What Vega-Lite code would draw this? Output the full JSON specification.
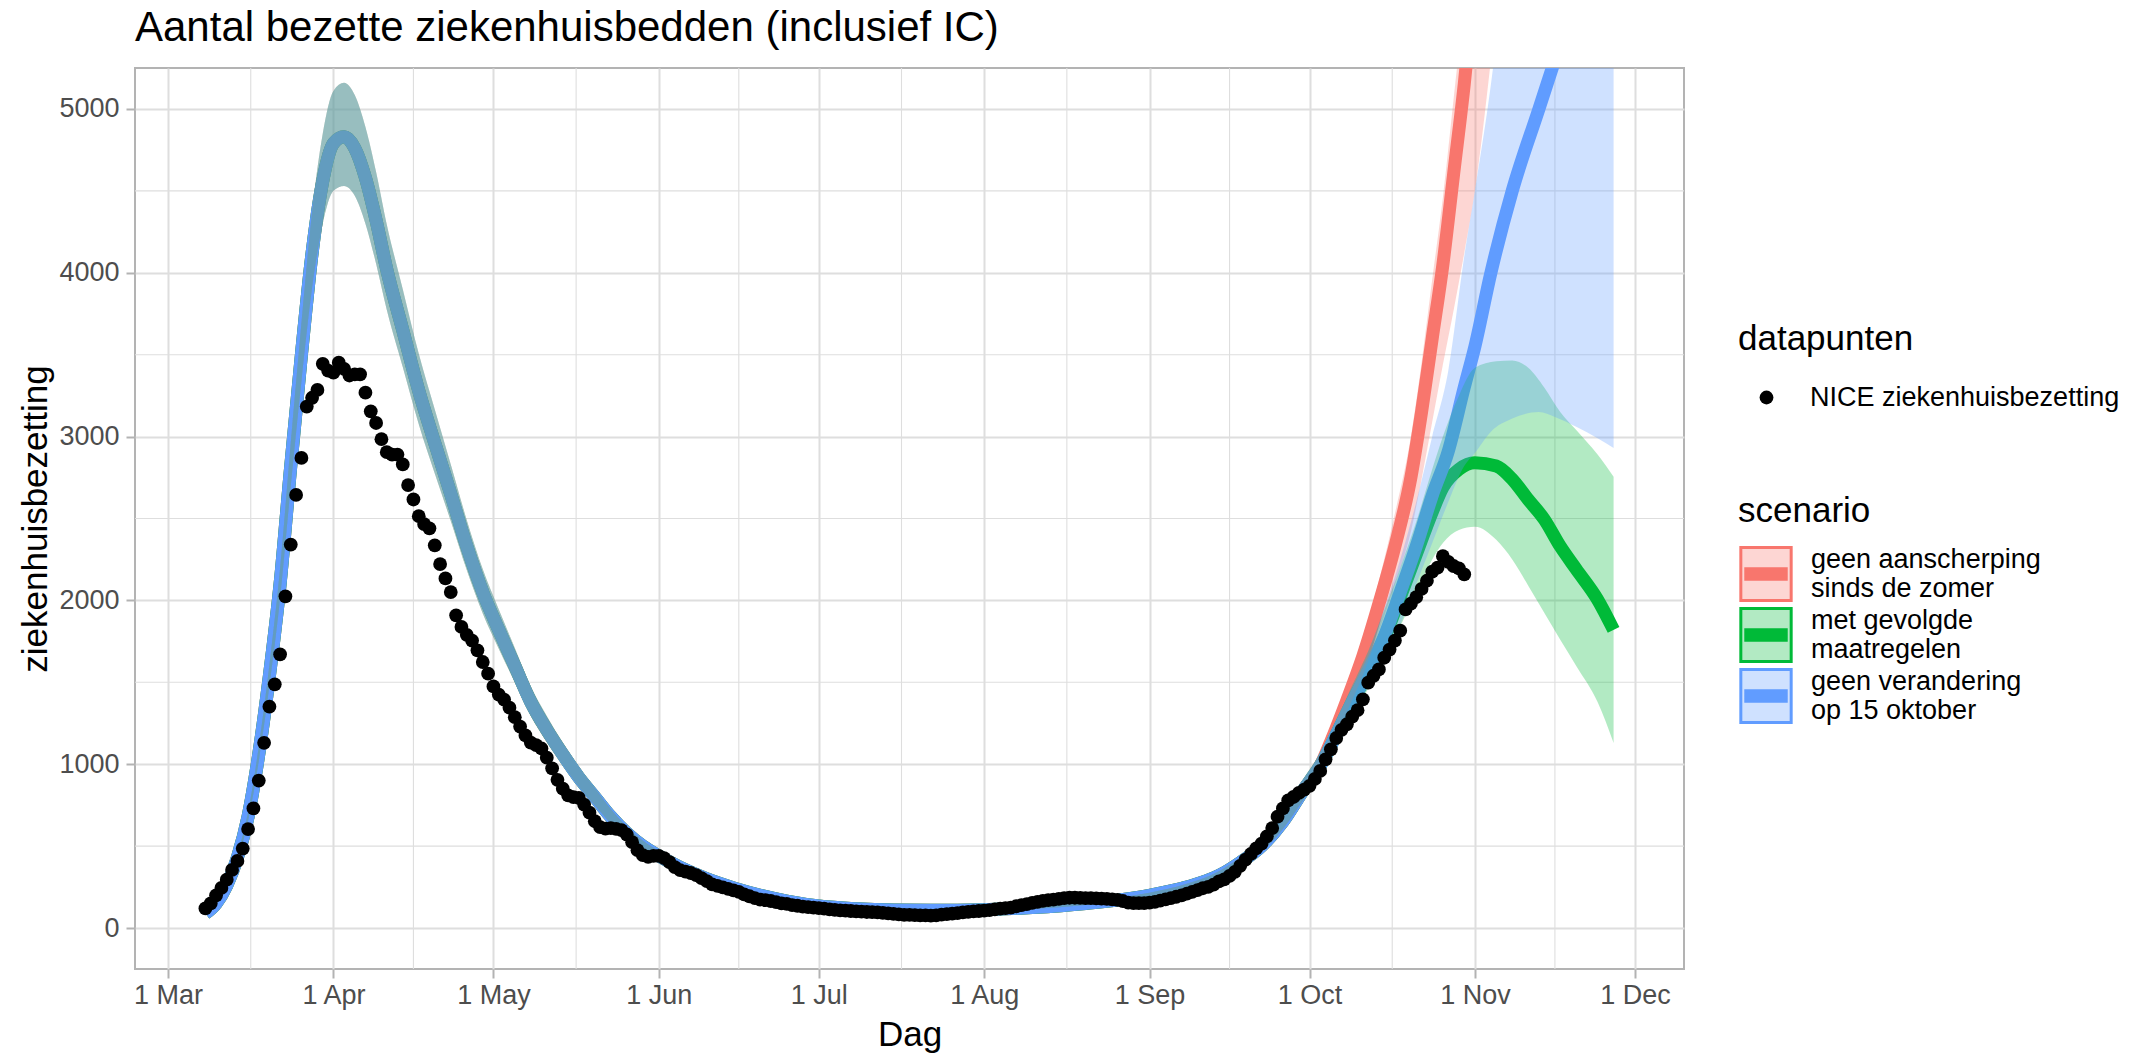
{
  "$schema": "https://vega.github.io/schema/vega-lite/v6.json",
  "width": 1549,
  "height": 901,
  "autosize": {"type": "none"},
  "padding": {"left": 135, "top": 68, "right": 452, "bottom": 84},
  "background": "white",
  "title": {"text": "Aantal bezette ziekenhuisbedden (inclusief IC)", "anchor": "start", "frame": "group", "fontSize": 42, "fontWeight": "normal", "color": "black", "baseline": "alphabetic", "offset": -16},
  "config": {
    "font": "Liberation Sans",
    "view": {"stroke": "#B3B3B3", "strokeWidth": 2},
    "axis": {"labelFontSize": 27, "labelColor": "#4D4D4D", "tickColor": "#B3B3B3", "tickWidth": 2, "tickSize": 9, "domain": false, "gridColor": "#DEDEDE", "gridWidth": 2, "titleFontSize": 35, "titleFontWeight": "normal", "titleColor": "black"},
    "legend": {"titleFontSize": 35, "titleFontWeight": "normal", "titleColor": "black", "labelFontSize": 27, "labelColor": "black", "padding": 0}
  },
  "datasets": {
    "gx": [{"d": "2020-03-16T12:00:00Z"}, {"d": "2020-04-16T00:00:00Z"}, {"d": "2020-05-16T12:00:00Z"}, {"d": "2020-06-16T00:00:00Z"}, {"d": "2020-07-16T12:00:00Z"}, {"d": "2020-08-16T12:00:00Z"}, {"d": "2020-09-16T00:00:00Z"}, {"d": "2020-10-16T12:00:00Z"}, {"d": "2020-11-16T00:00:00Z"}],
    "gy": [{"v": 500}, {"v": 1500}, {"v": 2500}, {"v": 3500}, {"v": 4500}],
    "scen": [
      {"id": "r", "s": "geen aanscherping\n\u00a0sinds de zomer"},
      {"id": "g", "s": "met gevolgde\n\u00a0maatregelen"},
      {"id": "b", "s": "geen verandering\n\u00a0op 15 oktober"}
    ],
    "nice": [
      {"d":"2020-03-08","v":120},{"d":"2020-03-09","v":150},{"d":"2020-03-10","v":200},{"d":"2020-03-11","v":245},{"d":"2020-03-12","v":295},{"d":"2020-03-13","v":355},{"d":"2020-03-14","v":410},{"d":"2020-03-15","v":485},{"d":"2020-03-16","v":604},{"d":"2020-03-17","v":730},{"d":"2020-03-18","v":900},{"d":"2020-03-19","v":1131},{"d":"2020-03-20","v":1351},{"d":"2020-03-21","v":1488},{"d":"2020-03-22","v":1671},{"d":"2020-03-23","v":2025},{"d":"2020-03-24","v":2341},{"d":"2020-03-25","v":2644},{"d":"2020-03-26","v":2870},{"d":"2020-03-27","v":3183},{"d":"2020-03-28","v":3237},{"d":"2020-03-29","v":3285},{"d":"2020-03-30","v":3444},{"d":"2020-03-31","v":3403},
      {"d":"2020-04-01","v":3390},{"d":"2020-04-02","v":3451},{"d":"2020-04-03","v":3414},{"d":"2020-04-04","v":3373},{"d":"2020-04-05","v":3380},{"d":"2020-04-06","v":3380},{"d":"2020-04-07","v":3268},{"d":"2020-04-08","v":3154},{"d":"2020-04-09","v":3083},{"d":"2020-04-10","v":2984},{"d":"2020-04-11","v":2905},{"d":"2020-04-12","v":2890},{"d":"2020-04-13","v":2890},{"d":"2020-04-14","v":2830},{"d":"2020-04-15","v":2704},{"d":"2020-04-16","v":2616},{"d":"2020-04-17","v":2514},{"d":"2020-04-18","v":2466},{"d":"2020-04-19","v":2440},{"d":"2020-04-20","v":2336},{"d":"2020-04-21","v":2222},{"d":"2020-04-22","v":2134},{"d":"2020-04-23","v":2051},{"d":"2020-04-24","v":1909},{"d":"2020-04-25","v":1838},{"d":"2020-04-26","v":1790},{"d":"2020-04-27","v":1755},{"d":"2020-04-28","v":1695},{"d":"2020-04-29","v":1624},{"d":"2020-04-30","v":1553},
      {"d":"2020-05-01","v":1475},{"d":"2020-05-02","v":1425},{"d":"2020-05-03","v":1395},{"d":"2020-05-04","v":1345},{"d":"2020-05-05","v":1287},{"d":"2020-05-06","v":1230},{"d":"2020-05-07","v":1176},{"d":"2020-05-08","v":1132},{"d":"2020-05-09","v":1117},{"d":"2020-05-10","v":1096},{"d":"2020-05-11","v":1040},{"d":"2020-05-12","v":975},{"d":"2020-05-13","v":905},{"d":"2020-05-14","v":851},{"d":"2020-05-15","v":810},{"d":"2020-05-16","v":799},{"d":"2020-05-17","v":795},{"d":"2020-05-18","v":754},{"d":"2020-05-19","v":704},{"d":"2020-05-20","v":652},{"d":"2020-05-21","v":616},{"d":"2020-05-22","v":607},{"d":"2020-05-23","v":610},{"d":"2020-05-24","v":605},{"d":"2020-05-25","v":598},{"d":"2020-05-26","v":571},{"d":"2020-05-27","v":524},{"d":"2020-05-28","v":475},{"d":"2020-05-29","v":445},{"d":"2020-05-30","v":435},{"d":"2020-05-31","v":440},
      {"d":"2020-06-01","v":440},{"d":"2020-06-02","v":427},{"d":"2020-06-03","v":402},{"d":"2020-06-04","v":372},{"d":"2020-06-05","v":354},{"d":"2020-06-06","v":345},{"d":"2020-06-07","v":336},{"d":"2020-06-08","v":323},{"d":"2020-06-09","v":305},{"d":"2020-06-10","v":287},{"d":"2020-06-11","v":266},{"d":"2020-06-12","v":257},{"d":"2020-06-13","v":248},{"d":"2020-06-14","v":239},{"d":"2020-06-15","v":230},{"d":"2020-06-16","v":221},{"d":"2020-06-17","v":205},{"d":"2020-06-18","v":194},{"d":"2020-06-19","v":183},{"d":"2020-06-20","v":174},{"d":"2020-06-21","v":170},{"d":"2020-06-22","v":165},{"d":"2020-06-23","v":158},{"d":"2020-06-24","v":151},{"d":"2020-06-25","v":147},{"d":"2020-06-26","v":140},{"d":"2020-06-27","v":136},{"d":"2020-06-28","v":131},{"d":"2020-06-29","v":128},{"d":"2020-06-30","v":124},
      {"d":"2020-07-01","v":122},{"d":"2020-07-02","v":118},{"d":"2020-07-03","v":114},{"d":"2020-07-04","v":111},{"d":"2020-07-05","v":108},{"d":"2020-07-06","v":106},{"d":"2020-07-07","v":104},{"d":"2020-07-08","v":102},{"d":"2020-07-09","v":100},{"d":"2020-07-10","v":98},{"d":"2020-07-11","v":97},{"d":"2020-07-12","v":96},{"d":"2020-07-13","v":93},{"d":"2020-07-14","v":90},{"d":"2020-07-15","v":87},{"d":"2020-07-16","v":83},{"d":"2020-07-17","v":81},{"d":"2020-07-18","v":80},{"d":"2020-07-19","v":79},{"d":"2020-07-20","v":78},{"d":"2020-07-21","v":77},{"d":"2020-07-22","v":76},{"d":"2020-07-23","v":78},{"d":"2020-07-24","v":82},{"d":"2020-07-25","v":85},{"d":"2020-07-26","v":88},{"d":"2020-07-27","v":91},{"d":"2020-07-28","v":95},{"d":"2020-07-29","v":99},{"d":"2020-07-30","v":102},{"d":"2020-07-31","v":104},
      {"d":"2020-08-01","v":106},{"d":"2020-08-02","v":110},{"d":"2020-08-03","v":114},{"d":"2020-08-04","v":118},{"d":"2020-08-05","v":122},{"d":"2020-08-06","v":125},{"d":"2020-08-07","v":133},{"d":"2020-08-08","v":140},{"d":"2020-08-09","v":146},{"d":"2020-08-10","v":153},{"d":"2020-08-11","v":160},{"d":"2020-08-12","v":166},{"d":"2020-08-13","v":170},{"d":"2020-08-14","v":174},{"d":"2020-08-15","v":178},{"d":"2020-08-16","v":182},{"d":"2020-08-17","v":185},{"d":"2020-08-18","v":185},{"d":"2020-08-19","v":184},{"d":"2020-08-20","v":183},{"d":"2020-08-21","v":182},{"d":"2020-08-22","v":181},{"d":"2020-08-23","v":180},{"d":"2020-08-24","v":178},{"d":"2020-08-25","v":175},{"d":"2020-08-26","v":172},{"d":"2020-08-27","v":165},{"d":"2020-08-28","v":155},{"d":"2020-08-29","v":152},{"d":"2020-08-30","v":152},{"d":"2020-08-31","v":152},
      {"d":"2020-09-01","v":155},{"d":"2020-09-02","v":160},{"d":"2020-09-03","v":167},{"d":"2020-09-04","v":175},{"d":"2020-09-05","v":183},{"d":"2020-09-06","v":191},{"d":"2020-09-07","v":200},{"d":"2020-09-08","v":210},{"d":"2020-09-09","v":221},{"d":"2020-09-10","v":232},{"d":"2020-09-11","v":243},{"d":"2020-09-12","v":251},{"d":"2020-09-13","v":265},{"d":"2020-09-14","v":285},{"d":"2020-09-15","v":297},{"d":"2020-09-16","v":318},{"d":"2020-09-17","v":343},{"d":"2020-09-18","v":380},{"d":"2020-09-19","v":417},{"d":"2020-09-20","v":452},{"d":"2020-09-21","v":486},{"d":"2020-09-22","v":515},{"d":"2020-09-23","v":560},{"d":"2020-09-24","v":610},{"d":"2020-09-25","v":680},{"d":"2020-09-26","v":730},{"d":"2020-09-27","v":780},{"d":"2020-09-28","v":800},{"d":"2020-09-29","v":825},{"d":"2020-09-30","v":845},
      {"d":"2020-10-01","v":868},{"d":"2020-10-02","v":910},{"d":"2020-10-03","v":959},{"d":"2020-10-04","v":1030},{"d":"2020-10-05","v":1091},{"d":"2020-10-06","v":1160},{"d":"2020-10-07","v":1210},{"d":"2020-10-08","v":1244},{"d":"2020-10-09","v":1290},{"d":"2020-10-10","v":1330},{"d":"2020-10-11","v":1396},{"d":"2020-10-12","v":1498},{"d":"2020-10-13","v":1540},{"d":"2020-10-14","v":1579},{"d":"2020-10-15","v":1650},{"d":"2020-10-16","v":1700},{"d":"2020-10-17","v":1755},{"d":"2020-10-18","v":1815},{"d":"2020-10-19","v":1945},{"d":"2020-10-20","v":1980},{"d":"2020-10-21","v":2020},{"d":"2020-10-22","v":2070},{"d":"2020-10-23","v":2120},{"d":"2020-10-24","v":2175},{"d":"2020-10-25","v":2200},{"d":"2020-10-26","v":2270},{"d":"2020-10-27","v":2235},{"d":"2020-10-28","v":2210},{"d":"2020-10-29","v":2195},{"d":"2020-10-30","v":2159}
    ],
    "model": [
      {"d":"2020-03-08","id":"r","m":90,"lo":87,"hi":93},{"d":"2020-03-10","id":"r","m":150,"lo":145,"hi":156},{"d":"2020-03-12","id":"r","m":260,"lo":250,"hi":271},{"d":"2020-03-14","id":"r","m":430,"lo":414,"hi":448},{"d":"2020-03-16","id":"r","m":680,"lo":655,"hi":708},{"d":"2020-03-18","id":"r","m":1060,"lo":1020,"hi":1105},{"d":"2020-03-20","id":"r","m":1540,"lo":1480,"hi":1605},{"d":"2020-03-22","id":"r","m":2100,"lo":2015,"hi":2195},{"d":"2020-03-24","id":"r","m":2820,"lo":2700,"hi":2960},{"d":"2020-03-26","id":"r","m":3500,"lo":3340,"hi":3690},{"d":"2020-03-28","id":"r","m":4120,"lo":3910,"hi":4370},{"d":"2020-03-30","id":"r","m":4560,"lo":4300,"hi":4850},{"d":"2020-04-01","id":"r","m":4790,"lo":4500,"hi":5110},{"d":"2020-04-03","id":"r","m":4830,"lo":4530,"hi":5160},{"d":"2020-04-05","id":"r","m":4760,"lo":4470,"hi":5085},{"d":"2020-04-07","id":"r","m":4580,"lo":4300,"hi":4890},{"d":"2020-04-09","id":"r","m":4320,"lo":4055,"hi":4615},{"d":"2020-04-11","id":"r","m":4020,"lo":3775,"hi":4295},{"d":"2020-04-14","id":"r","m":3650,"lo":3425,"hi":3900},{"d":"2020-04-17","id":"r","m":3280,"lo":3075,"hi":3505},{"d":"2020-04-20","id":"r","m":2960,"lo":2775,"hi":3165},{"d":"2020-04-23","id":"r","m":2650,"lo":2485,"hi":2830},{"d":"2020-04-26","id":"r","m":2330,"lo":2185,"hi":2490},{"d":"2020-04-29","id":"r","m":2050,"lo":1920,"hi":2190},{"d":"2020-05-02","id":"r","m":1820,"lo":1705,"hi":1945},{"d":"2020-05-05","id":"r","m":1600,"lo":1500,"hi":1710},{"d":"2020-05-08","id":"r","m":1380,"lo":1295,"hi":1475},{"d":"2020-05-11","id":"r","m":1210,"lo":1135,"hi":1295},{"d":"2020-05-14","id":"r","m":1060,"lo":995,"hi":1132},{"d":"2020-05-17","id":"r","m":920,"lo":863,"hi":983},{"d":"2020-05-20","id":"r","m":800,"lo":750,"hi":855},{"d":"2020-05-23","id":"r","m":680,"lo":638,"hi":727},{"d":"2020-05-26","id":"r","m":580,"lo":544,"hi":620},{"d":"2020-05-29","id":"r","m":500,"lo":470,"hi":534},{"d":"2020-06-01","id":"r","m":440,"lo":414,"hi":470},{"d":"2020-06-05","id":"r","m":370,"lo":348,"hi":395},{"d":"2020-06-10","id":"r","m":300,"lo":282,"hi":320},{"d":"2020-06-15","id":"r","m":245,"lo":230,"hi":262},{"d":"2020-06-20","id":"r","m":200,"lo":188,"hi":214},{"d":"2020-06-25","id":"r","m":165,"lo":155,"hi":177},{"d":"2020-07-01","id":"r","m":135,"lo":127,"hi":145},{"d":"2020-07-08","id":"r","m":118,"lo":111,"hi":127},{"d":"2020-07-15","id":"r","m":110,"lo":103,"hi":118},{"d":"2020-07-22","id":"r","m":108,"lo":101,"hi":116},{"d":"2020-08-01","id":"r","m":112,"lo":105,"hi":121},{"d":"2020-08-10","id":"r","m":125,"lo":117,"hi":135},{"d":"2020-08-20","id":"r","m":150,"lo":140,"hi":162},{"d":"2020-09-01","id":"r","m":200,"lo":186,"hi":216},{"d":"2020-09-08","id":"r","m":250,"lo":232,"hi":270},{"d":"2020-09-14","id":"r","m":320,"lo":297,"hi":346},{"d":"2020-09-18","id":"r","m":400,"lo":372,"hi":432},{"d":"2020-09-22","id":"r","m":500,"lo":465,"hi":540},{"d":"2020-09-26","id":"r","m":650,"lo":605,"hi":702},{"d":"2020-09-30","id":"r","m":850,"lo":790,"hi":918},{"d":"2020-10-03","id":"r","m":990,"lo":921,"hi":1069},
      {"d":"2020-10-05","id":"r","m":1140,"lo":1100,"hi":1175},{"d":"2020-10-08","id":"r","m":1390,"lo":1320,"hi":1450},{"d":"2020-10-11","id":"r","m":1660,"lo":1545,"hi":1760},{"d":"2020-10-14","id":"r","m":1980,"lo":1810,"hi":2120},{"d":"2020-10-17","id":"r","m":2330,"lo":2100,"hi":2530},{"d":"2020-10-20","id":"r","m":2750,"lo":2420,"hi":3000},{"d":"2020-10-22","id":"r","m":3150,"lo":2740,"hi":3450},{"d":"2020-10-24","id":"r","m":3600,"lo":3090,"hi":3960},{"d":"2020-10-26","id":"r","m":4050,"lo":3440,"hi":4460},{"d":"2020-10-28","id":"r","m":4600,"lo":3770,"hi":5060},{"d":"2020-10-30","id":"r","m":5150,"lo":4120,"hi":5670},{"d":"2020-11-01","id":"r","m":5800,"lo":4500,"hi":6380},{"d":"2020-11-04","id":"r","m":6900,"lo":5300,"hi":7600},
      {"d":"2020-03-08","id":"g","m":90,"lo":87,"hi":93},{"d":"2020-03-10","id":"g","m":150,"lo":145,"hi":156},{"d":"2020-03-12","id":"g","m":260,"lo":250,"hi":271},{"d":"2020-03-14","id":"g","m":430,"lo":414,"hi":448},{"d":"2020-03-16","id":"g","m":680,"lo":655,"hi":708},{"d":"2020-03-18","id":"g","m":1060,"lo":1020,"hi":1105},{"d":"2020-03-20","id":"g","m":1540,"lo":1480,"hi":1605},{"d":"2020-03-22","id":"g","m":2100,"lo":2015,"hi":2195},{"d":"2020-03-24","id":"g","m":2820,"lo":2700,"hi":2960},{"d":"2020-03-26","id":"g","m":3500,"lo":3340,"hi":3690},{"d":"2020-03-28","id":"g","m":4120,"lo":3910,"hi":4370},{"d":"2020-03-30","id":"g","m":4560,"lo":4300,"hi":4850},{"d":"2020-04-01","id":"g","m":4790,"lo":4500,"hi":5110},{"d":"2020-04-03","id":"g","m":4830,"lo":4530,"hi":5160},{"d":"2020-04-05","id":"g","m":4760,"lo":4470,"hi":5085},{"d":"2020-04-07","id":"g","m":4580,"lo":4300,"hi":4890},{"d":"2020-04-09","id":"g","m":4320,"lo":4055,"hi":4615},{"d":"2020-04-11","id":"g","m":4020,"lo":3775,"hi":4295},{"d":"2020-04-14","id":"g","m":3650,"lo":3425,"hi":3900},{"d":"2020-04-17","id":"g","m":3280,"lo":3075,"hi":3505},{"d":"2020-04-20","id":"g","m":2960,"lo":2775,"hi":3165},{"d":"2020-04-23","id":"g","m":2650,"lo":2485,"hi":2830},{"d":"2020-04-26","id":"g","m":2330,"lo":2185,"hi":2490},{"d":"2020-04-29","id":"g","m":2050,"lo":1920,"hi":2190},{"d":"2020-05-02","id":"g","m":1820,"lo":1705,"hi":1945},{"d":"2020-05-05","id":"g","m":1600,"lo":1500,"hi":1710},{"d":"2020-05-08","id":"g","m":1380,"lo":1295,"hi":1475},{"d":"2020-05-11","id":"g","m":1210,"lo":1135,"hi":1295},{"d":"2020-05-14","id":"g","m":1060,"lo":995,"hi":1132},{"d":"2020-05-17","id":"g","m":920,"lo":863,"hi":983},{"d":"2020-05-20","id":"g","m":800,"lo":750,"hi":855},{"d":"2020-05-23","id":"g","m":680,"lo":638,"hi":727},{"d":"2020-05-26","id":"g","m":580,"lo":544,"hi":620},{"d":"2020-05-29","id":"g","m":500,"lo":470,"hi":534},{"d":"2020-06-01","id":"g","m":440,"lo":414,"hi":470},{"d":"2020-06-05","id":"g","m":370,"lo":348,"hi":395},{"d":"2020-06-10","id":"g","m":300,"lo":282,"hi":320},{"d":"2020-06-15","id":"g","m":245,"lo":230,"hi":262},{"d":"2020-06-20","id":"g","m":200,"lo":188,"hi":214},{"d":"2020-06-25","id":"g","m":165,"lo":155,"hi":177},{"d":"2020-07-01","id":"g","m":135,"lo":127,"hi":145},{"d":"2020-07-08","id":"g","m":118,"lo":111,"hi":127},{"d":"2020-07-15","id":"g","m":110,"lo":103,"hi":118},{"d":"2020-07-22","id":"g","m":108,"lo":101,"hi":116},{"d":"2020-08-01","id":"g","m":112,"lo":105,"hi":121},{"d":"2020-08-10","id":"g","m":125,"lo":117,"hi":135},{"d":"2020-08-20","id":"g","m":150,"lo":140,"hi":162},{"d":"2020-09-01","id":"g","m":200,"lo":186,"hi":216},{"d":"2020-09-08","id":"g","m":250,"lo":232,"hi":270},{"d":"2020-09-14","id":"g","m":320,"lo":297,"hi":346},{"d":"2020-09-18","id":"g","m":400,"lo":372,"hi":432},{"d":"2020-09-22","id":"g","m":500,"lo":465,"hi":540},{"d":"2020-09-26","id":"g","m":650,"lo":605,"hi":702},{"d":"2020-09-30","id":"g","m":850,"lo":790,"hi":918},{"d":"2020-10-03","id":"g","m":990,"lo":921,"hi":1069},
      {"d":"2020-10-06","id":"g","m":1180,"lo":1105,"hi":1265},{"d":"2020-10-09","id":"g","m":1380,"lo":1290,"hi":1480},{"d":"2020-10-12","id":"g","m":1565,"lo":1460,"hi":1690},{"d":"2020-10-15","id":"g","m":1770,"lo":1620,"hi":1940},{"d":"2020-10-18","id":"g","m":2020,"lo":1840,"hi":2200},{"d":"2020-10-21","id":"g","m":2280,"lo":2050,"hi":2480},{"d":"2020-10-24","id":"g","m":2540,"lo":2250,"hi":2800},{"d":"2020-10-26","id":"g","m":2690,"lo":2350,"hi":3000},{"d":"2020-10-29","id":"g","m":2800,"lo":2430,"hi":3250},{"d":"2020-11-01","id":"g","m":2840,"lo":2450,"hi":3420},{"d":"2020-11-05","id":"g","m":2820,"lo":2370,"hi":3460},{"d":"2020-11-08","id":"g","m":2740,"lo":2250,"hi":3465},{"d":"2020-11-11","id":"g","m":2615,"lo":2090,"hi":3420},{"d":"2020-11-14","id":"g","m":2495,"lo":1925,"hi":3300},{"d":"2020-11-17","id":"g","m":2330,"lo":1760,"hi":3150},{"d":"2020-11-20","id":"g","m":2190,"lo":1600,"hi":3040},{"d":"2020-11-24","id":"g","m":2005,"lo":1380,"hi":2890},{"d":"2020-11-27","id":"g","m":1820,"lo":1130,"hi":2755},
      {"d":"2020-03-08","id":"b","m":90,"lo":87,"hi":93},{"d":"2020-03-10","id":"b","m":150,"lo":145,"hi":156},{"d":"2020-03-12","id":"b","m":260,"lo":250,"hi":271},{"d":"2020-03-14","id":"b","m":430,"lo":414,"hi":448},{"d":"2020-03-16","id":"b","m":680,"lo":655,"hi":708},{"d":"2020-03-18","id":"b","m":1060,"lo":1020,"hi":1105},{"d":"2020-03-20","id":"b","m":1540,"lo":1480,"hi":1605},{"d":"2020-03-22","id":"b","m":2100,"lo":2015,"hi":2195},{"d":"2020-03-24","id":"b","m":2820,"lo":2700,"hi":2960},{"d":"2020-03-26","id":"b","m":3500,"lo":3340,"hi":3690},{"d":"2020-03-28","id":"b","m":4120,"lo":3910,"hi":4370},{"d":"2020-03-30","id":"b","m":4560,"lo":4300,"hi":4850},{"d":"2020-04-01","id":"b","m":4790,"lo":4500,"hi":5110},{"d":"2020-04-03","id":"b","m":4830,"lo":4530,"hi":5160},{"d":"2020-04-05","id":"b","m":4760,"lo":4470,"hi":5085},{"d":"2020-04-07","id":"b","m":4580,"lo":4300,"hi":4890},{"d":"2020-04-09","id":"b","m":4320,"lo":4055,"hi":4615},{"d":"2020-04-11","id":"b","m":4020,"lo":3775,"hi":4295},{"d":"2020-04-14","id":"b","m":3650,"lo":3425,"hi":3900},{"d":"2020-04-17","id":"b","m":3280,"lo":3075,"hi":3505},{"d":"2020-04-20","id":"b","m":2960,"lo":2775,"hi":3165},{"d":"2020-04-23","id":"b","m":2650,"lo":2485,"hi":2830},{"d":"2020-04-26","id":"b","m":2330,"lo":2185,"hi":2490},{"d":"2020-04-29","id":"b","m":2050,"lo":1920,"hi":2190},{"d":"2020-05-02","id":"b","m":1820,"lo":1705,"hi":1945},{"d":"2020-05-05","id":"b","m":1600,"lo":1500,"hi":1710},{"d":"2020-05-08","id":"b","m":1380,"lo":1295,"hi":1475},{"d":"2020-05-11","id":"b","m":1210,"lo":1135,"hi":1295},{"d":"2020-05-14","id":"b","m":1060,"lo":995,"hi":1132},{"d":"2020-05-17","id":"b","m":920,"lo":863,"hi":983},{"d":"2020-05-20","id":"b","m":800,"lo":750,"hi":855},{"d":"2020-05-23","id":"b","m":680,"lo":638,"hi":727},{"d":"2020-05-26","id":"b","m":580,"lo":544,"hi":620},{"d":"2020-05-29","id":"b","m":500,"lo":470,"hi":534},{"d":"2020-06-01","id":"b","m":440,"lo":414,"hi":470},{"d":"2020-06-05","id":"b","m":370,"lo":348,"hi":395},{"d":"2020-06-10","id":"b","m":300,"lo":282,"hi":320},{"d":"2020-06-15","id":"b","m":245,"lo":230,"hi":262},{"d":"2020-06-20","id":"b","m":200,"lo":188,"hi":214},{"d":"2020-06-25","id":"b","m":165,"lo":155,"hi":177},{"d":"2020-07-01","id":"b","m":135,"lo":127,"hi":145},{"d":"2020-07-08","id":"b","m":118,"lo":111,"hi":127},{"d":"2020-07-15","id":"b","m":110,"lo":103,"hi":118},{"d":"2020-07-22","id":"b","m":108,"lo":101,"hi":116},{"d":"2020-08-01","id":"b","m":112,"lo":105,"hi":121},{"d":"2020-08-10","id":"b","m":125,"lo":117,"hi":135},{"d":"2020-08-20","id":"b","m":150,"lo":140,"hi":162},{"d":"2020-09-01","id":"b","m":200,"lo":186,"hi":216},{"d":"2020-09-08","id":"b","m":250,"lo":232,"hi":270},{"d":"2020-09-14","id":"b","m":320,"lo":297,"hi":346},{"d":"2020-09-18","id":"b","m":400,"lo":372,"hi":432},{"d":"2020-09-22","id":"b","m":500,"lo":465,"hi":540},{"d":"2020-09-26","id":"b","m":650,"lo":605,"hi":702},{"d":"2020-09-30","id":"b","m":850,"lo":790,"hi":918},{"d":"2020-10-03","id":"b","m":990,"lo":921,"hi":1069},
      {"d":"2020-10-06","id":"b","m":1180,"lo":1105,"hi":1265},{"d":"2020-10-09","id":"b","m":1380,"lo":1290,"hi":1480},{"d":"2020-10-12","id":"b","m":1570,"lo":1470,"hi":1690},{"d":"2020-10-15","id":"b","m":1780,"lo":1620,"hi":1950},{"d":"2020-10-18","id":"b","m":2050,"lo":1850,"hi":2250},{"d":"2020-10-21","id":"b","m":2330,"lo":2100,"hi":2600},{"d":"2020-10-24","id":"b","m":2640,"lo":2350,"hi":3000},{"d":"2020-10-27","id":"b","m":2910,"lo":2600,"hi":3400},{"d":"2020-10-30","id":"b","m":3300,"lo":2820,"hi":4100},{"d":"2020-11-01","id":"b","m":3550,"lo":2900,"hi":4500},{"d":"2020-11-04","id":"b","m":4000,"lo":3030,"hi":5150},{"d":"2020-11-08","id":"b","m":4500,"lo":3110,"hi":6300},{"d":"2020-11-13","id":"b","m":5000,"lo":3150,"hi":8000},{"d":"2020-11-16","id":"b","m":5300,"lo":3120,"hi":9000},{"d":"2020-11-20","id":"b","m":5700,"lo":3060,"hi":10500},{"d":"2020-11-24","id":"b","m":6100,"lo":2990,"hi":12000},{"d":"2020-11-27","id":"b","m":6400,"lo":2930,"hi":13000}
    ]
  },
  "layer": [
    {
      "data": {"name": "gx"},
      "mark": {"type": "rule", "color": "#DEDEDE", "strokeWidth": 1.1},
      "encoding": {
        "x": {"field": "d", "type": "temporal",
          "scale": {"type": "utc", "domain": [{"year": 2020, "month": 2, "date": 23, "hours": 19, "minutes": 12, "utc": true}, {"year": 2020, "month": 12, "date": 10, "hours": 4, "minutes": 48, "utc": true}]},
          "axis": {"values": [{"year": 2020, "month": 3, "date": 1, "utc": true}, {"year": 2020, "month": 4, "date": 1, "utc": true}, {"year": 2020, "month": 5, "date": 1, "utc": true}, {"year": 2020, "month": 6, "date": 1, "utc": true}, {"year": 2020, "month": 7, "date": 1, "utc": true}, {"year": 2020, "month": 8, "date": 1, "utc": true}, {"year": 2020, "month": 9, "date": 1, "utc": true}, {"year": 2020, "month": 10, "date": 1, "utc": true}, {"year": 2020, "month": 11, "date": 1, "utc": true}, {"year": 2020, "month": 12, "date": 1, "utc": true}], "format": "%-d %b", "title": "Dag", "labelPadding": 4, "titlePadding": 9, "labelFlush": false}}
      }
    },
    {
      "data": {"name": "gy"},
      "mark": {"type": "rule", "color": "#DEDEDE", "strokeWidth": 1.1},
      "encoding": {
        "y": {"field": "v", "type": "quantitative", "scale": {"domain": [-250, 5250], "nice": false, "zero": false},
          "axis": {"values": [0, 1000, 2000, 3000, 4000, 5000], "format": "d", "title": "ziekenhuisbezetting", "labelPadding": 7, "titlePadding": 5}}
      }
    },
    {
      "data": {"name": "model"},
      "transform": [{"lookup": "id", "from": {"data": {"name": "scen"}, "key": "id", "fields": ["s"]}}],
      "mark": {"type": "line", "interpolate": "monotone", "clip": true},
      "encoding": {
        "x": {"field": "d", "type": "temporal",
          "scale": {"type": "utc", "domain": [{"year": 2020, "month": 2, "date": 23, "hours": 19, "minutes": 12, "utc": true}, {"year": 2020, "month": 12, "date": 10, "hours": 4, "minutes": 48, "utc": true}]},
          "axis": {"values": [{"year": 2020, "month": 3, "date": 1, "utc": true}, {"year": 2020, "month": 4, "date": 1, "utc": true}, {"year": 2020, "month": 5, "date": 1, "utc": true}, {"year": 2020, "month": 6, "date": 1, "utc": true}, {"year": 2020, "month": 7, "date": 1, "utc": true}, {"year": 2020, "month": 8, "date": 1, "utc": true}, {"year": 2020, "month": 9, "date": 1, "utc": true}, {"year": 2020, "month": 10, "date": 1, "utc": true}, {"year": 2020, "month": 11, "date": 1, "utc": true}, {"year": 2020, "month": 12, "date": 1, "utc": true}], "format": "%-d %b", "title": "Dag", "labelPadding": 4, "titlePadding": 9, "labelFlush": false}},
        "y": {"field": "m", "type": "quantitative", "scale": {"domain": [-250, 5250], "nice": false, "zero": false},
          "axis": {"values": [0, 1000, 2000, 3000, 4000, 5000], "format": "d", "title": "ziekenhuisbezetting", "labelPadding": 7, "titlePadding": 5}},
        "strokeWidth": {"value": 13},
        "stroke": {"field": "s", "type": "nominal",
          "scale": {"domain": ["geen aanscherping\n\u00a0sinds de zomer", "met gevolgde\n\u00a0maatregelen", "geen verandering\n\u00a0op 15 oktober"], "range": ["#F8766D", "#00BA38", "#619CFF"]},
          "legend": {"orient": "none", "legendX": 1603, "legendY": 426, "title": "scenario", "titlePadding": 17, "symbolType": "M-0.95,-1H0.95V1H-0.95Z M-0.82,-0.2H0.82 M-0.82,-0.1H0.82 M-0.82,0H0.82 M-0.82,0.1H0.82 M-0.82,0.2H0.82", "symbolSize": 2809, "symbolStrokeWidth": 3, "labelExpr": "split(datum.label, '\\n')", "labelBaseline": "bottom", "labelOffset": 17, "labelLimit": 400, "rowPadding": -9.6}}
      }
    },
    {
      "data": {"name": "model"},
      "transform": [{"lookup": "id", "from": {"data": {"name": "scen"}, "key": "id", "fields": ["s"]}}],
      "mark": {"type": "area", "interpolate": "monotone", "clip": true},
      "encoding": {
        "x": {"field": "d", "type": "temporal",
          "scale": {"type": "utc", "domain": [{"year": 2020, "month": 2, "date": 23, "hours": 19, "minutes": 12, "utc": true}, {"year": 2020, "month": 12, "date": 10, "hours": 4, "minutes": 48, "utc": true}]},
          "axis": {"values": [{"year": 2020, "month": 3, "date": 1, "utc": true}, {"year": 2020, "month": 4, "date": 1, "utc": true}, {"year": 2020, "month": 5, "date": 1, "utc": true}, {"year": 2020, "month": 6, "date": 1, "utc": true}, {"year": 2020, "month": 7, "date": 1, "utc": true}, {"year": 2020, "month": 8, "date": 1, "utc": true}, {"year": 2020, "month": 9, "date": 1, "utc": true}, {"year": 2020, "month": 10, "date": 1, "utc": true}, {"year": 2020, "month": 11, "date": 1, "utc": true}, {"year": 2020, "month": 12, "date": 1, "utc": true}], "format": "%-d %b", "title": "Dag", "labelPadding": 4, "titlePadding": 9, "labelFlush": false}},
        "y": {"field": "lo", "type": "quantitative", "scale": {"domain": [-250, 5250], "nice": false, "zero": false},
          "axis": {"values": [0, 1000, 2000, 3000, 4000, 5000], "format": "d", "title": "ziekenhuisbezetting", "labelPadding": 7, "titlePadding": 5}},
        "y2": {"field": "hi"},
        "fill": {"field": "s", "type": "nominal",
          "scale": {"domain": ["geen aanscherping\n\u00a0sinds de zomer", "met gevolgde\n\u00a0maatregelen", "geen verandering\n\u00a0op 15 oktober"], "range": ["rgba(248,118,109,0.3)", "rgba(0,186,56,0.3)", "rgba(97,156,255,0.3)"]},
          "legend": {"orient": "none", "legendX": 1603, "legendY": 426, "title": "scenario", "titlePadding": 17, "symbolType": "M-0.95,-1H0.95V1H-0.95Z M-0.82,-0.2H0.82 M-0.82,-0.1H0.82 M-0.82,0H0.82 M-0.82,0.1H0.82 M-0.82,0.2H0.82", "symbolSize": 2809, "symbolStrokeWidth": 3, "labelExpr": "split(datum.label, '\\n')", "labelBaseline": "bottom", "labelOffset": 17, "labelLimit": 400, "rowPadding": -9.6}}
      }
    },
    {
      "data": {"name": "nice"},
      "mark": {"type": "point", "filled": true, "color": "black", "opacity": 1, "size": 190},
      "encoding": {
        "x": {"field": "d", "type": "temporal",
          "scale": {"type": "utc", "domain": [{"year": 2020, "month": 2, "date": 23, "hours": 19, "minutes": 12, "utc": true}, {"year": 2020, "month": 12, "date": 10, "hours": 4, "minutes": 48, "utc": true}]},
          "axis": {"values": [{"year": 2020, "month": 3, "date": 1, "utc": true}, {"year": 2020, "month": 4, "date": 1, "utc": true}, {"year": 2020, "month": 5, "date": 1, "utc": true}, {"year": 2020, "month": 6, "date": 1, "utc": true}, {"year": 2020, "month": 7, "date": 1, "utc": true}, {"year": 2020, "month": 8, "date": 1, "utc": true}, {"year": 2020, "month": 9, "date": 1, "utc": true}, {"year": 2020, "month": 10, "date": 1, "utc": true}, {"year": 2020, "month": 11, "date": 1, "utc": true}, {"year": 2020, "month": 12, "date": 1, "utc": true}], "format": "%-d %b", "title": "Dag", "labelPadding": 4, "titlePadding": 9, "labelFlush": false}},
        "y": {"field": "v", "type": "quantitative", "scale": {"domain": [-250, 5250], "nice": false, "zero": false},
          "axis": {"values": [0, 1000, 2000, 3000, 4000, 5000], "format": "d", "title": "ziekenhuisbezetting", "labelPadding": 7, "titlePadding": 5}},
        "shape": {"datum": "NICE ziekenhuisbezetting", "type": "nominal", "scale": {"range": ["circle"]},
          "legend": {"orient": "none", "legendX": 1603, "legendY": 254, "title": "datapunten", "titlePadding": 27, "symbolSize": 190, "symbolOffset": 15, "labelOffset": 30, "labelLimit": 500}}
      }
    }
  ]
}
